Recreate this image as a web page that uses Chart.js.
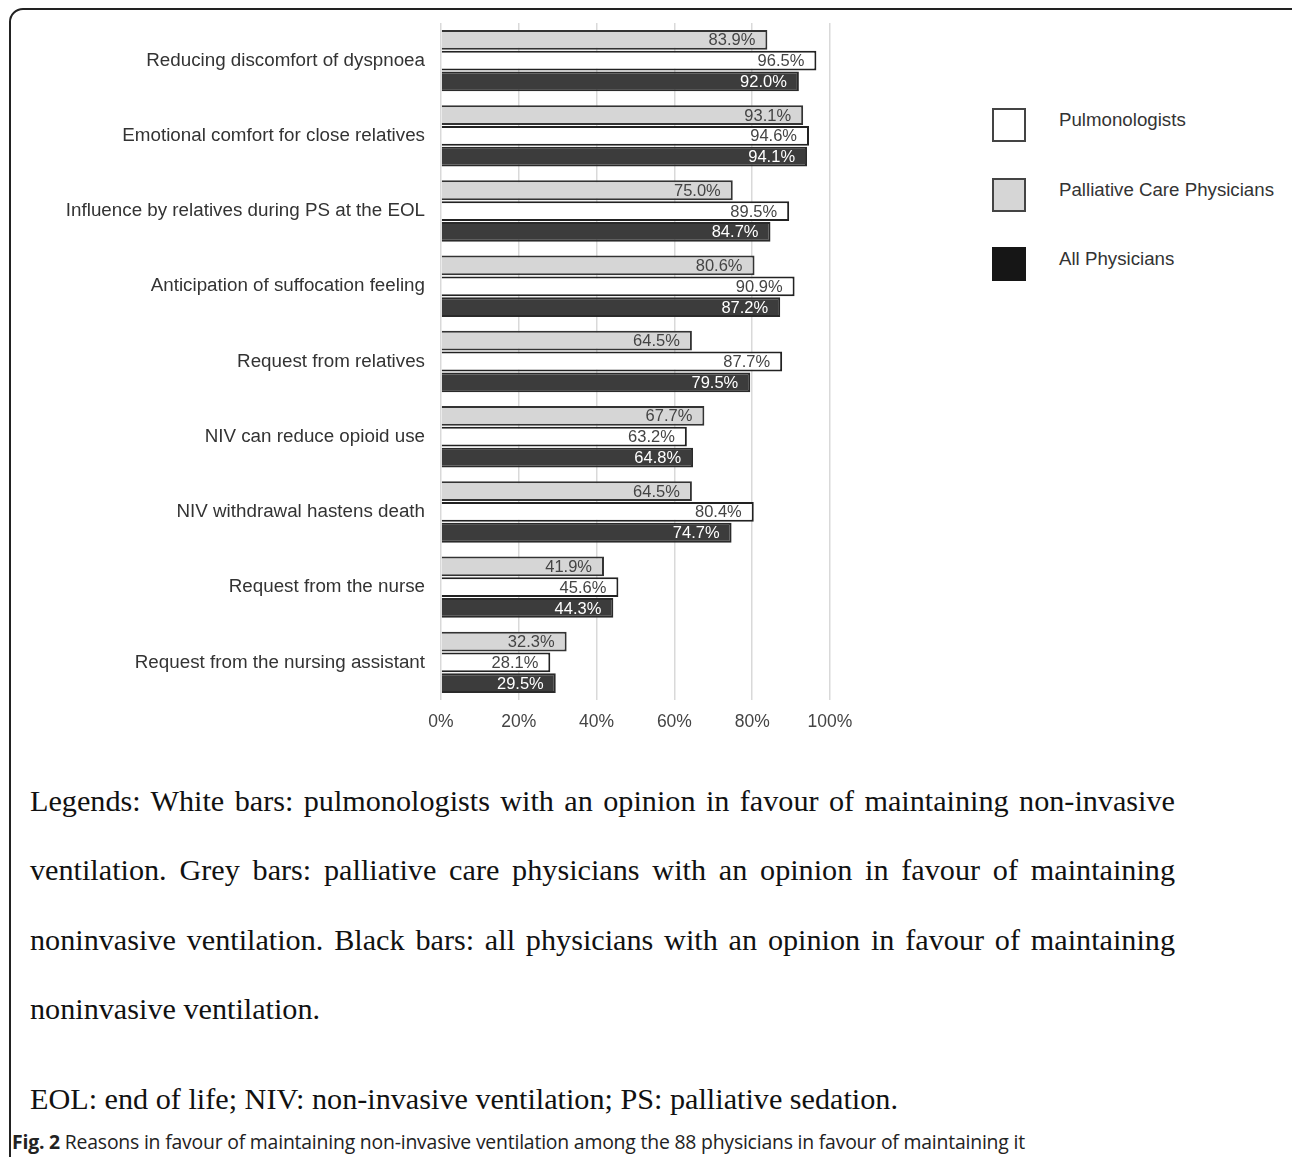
<!DOCTYPE html>
<html>
<head>
<meta charset="utf-8">
<script src="https://cdn.jsdelivr.net/npm/chart.js@4"></script>
<style>
  html, body { margin:0; padding:0; background:#fff; width:1292px; height:1157px; overflow:hidden; }
  #frame { position:absolute; left:9px; top:8px; width:1300px; height:1200px; border:2px solid #222; border-radius:14px; box-sizing:border-box; }
  #wrap { position:absolute; left:0; top:0; width:870px; height:745px; }
  .leg { position:absolute; left:992px; width:34px; height:34px; box-sizing:border-box; border:2px solid #444; }
  .legt { position:absolute; left:1059px; font-family:"Liberation Sans", Arial, sans-serif; font-size:18.7px; color:#333; line-height:20px; }
  .cap { position:absolute; left:30px; width:1145px; font-family:"Liberation Serif", "Times New Roman", serif; font-size:30.2px; color:#111; white-space:nowrap; }
  .just { text-align:justify; text-align-last:justify; white-space:normal; }
  #fig { position:absolute; left:12px; top:1128px; font-family:"Open Sans", sans-serif; font-size:19.4px; letter-spacing:-0.2px; color:#222; white-space:nowrap; }
</style>
</head>
<body>
<div id="frame"></div>
<div id="wrap"><canvas id="c"></canvas></div>

<div class="leg" style="top:108px;background:#fff;"></div>
<div class="legt" style="top:110px;">Pulmonologists</div>
<div class="leg" style="top:178px;background:#d6d6d6;"></div>
<div class="legt" style="top:180px;">Palliative Care Physicians</div>
<div class="leg" style="top:247px;background:#161616;border-color:#161616;"></div>
<div class="legt" style="top:249px;">All Physicians</div>

<div class="cap just" style="top:784px;">Legends: White bars: pulmonologists with an opinion in favour of maintaining non-invasive</div>
<div class="cap just" style="top:853px;">ventilation. Grey bars: palliative care physicians with an opinion in favour of maintaining</div>
<div class="cap just" style="top:923px;">noninvasive ventilation. Black bars: all physicians with an opinion in favour of maintaining</div>
<div class="cap" style="top:992px;">noninvasive ventilation.</div>
<div class="cap" style="top:1082px;">EOL: end of life; NIV: non-invasive ventilation; PS: palliative sedation.</div>
<div id="fig"><b>Fig. 2</b> Reasons in favour of maintaining non-invasive ventilation among the 88 physicians in favour of maintaining it</div>

<script>
const categories = [
  "Reducing discomfort of dyspnoea",
  "Emotional comfort for close relatives",
  "Influence by relatives during PS at the EOL",
  "Anticipation of suffocation feeling",
  "Request from relatives",
  "NIV can reduce opioid use",
  "NIV withdrawal hastens death",
  "Request from the nurse",
  "Request from the nursing assistant"
];
const palliative = [83.9, 93.1, 75.0, 80.6, 64.5, 67.7, 64.5, 41.9, 32.3];
const pulmonologists = [96.5, 94.6, 89.5, 90.9, 87.7, 63.2, 80.4, 45.6, 28.1];
const allPhysicians = [92.0, 94.1, 84.7, 87.2, 79.5, 64.8, 74.7, 44.3, 29.5];
const xTicks = [0, 20, 40, 60, 80, 100];

const labelPlugin = {
  id: 'valLabels',
  afterDatasetsDraw(chart) {
    const ctx = chart.ctx;
    ctx.save();
    ctx.font = '16.5px "Liberation Sans", Arial, sans-serif';
    ctx.textAlign = 'right';
    ctx.textBaseline = 'middle';
    chart.data.datasets.forEach((ds, i) => {
      const meta = chart.getDatasetMeta(i);
      meta.data.forEach((bar, j) => {
        ctx.fillStyle = ds.labelColor;
        ctx.fillText(ds.data[j].toFixed(1) + '%', bar.x - 12, bar.y + 1);
      });
    });
    ctx.restore();
  }
};

new Chart(document.getElementById('c'), {
  type: 'bar',
  data: {
    labels: categories,
    datasets: [
      { label: 'Palliative Care Physicians', data: palliative, backgroundColor: '#d6d6d6', borderColor: '#333', borderWidth: 2, labelColor: '#444' },
      { label: 'Pulmonologists', data: pulmonologists, backgroundColor: '#ffffff', borderColor: '#222', borderWidth: 2, labelColor: '#444' },
      { label: 'All Physicians', data: allPhysicians, backgroundColor: '#3c3c3c', borderColor: '#2a2a2a', borderWidth: 2, labelColor: '#ffffff' }
    ]
  },
  options: {
    indexAxis: 'y',
    responsive: true,
    maintainAspectRatio: false,
    animation: false,
    layout: { padding: { top: 23, right: 40, bottom: 0, left: 0 } },
    categoryPercentage: 0.83,
    barPercentage: 0.95,
    plugins: { legend: { display: false }, tooltip: { enabled: false } },
    scales: {
      x: {
        min: 0, max: 100,
        afterBuildTicks(scale) { scale.ticks = xTicks.map(v => ({ value: v })); },
        afterFit(scale) { scale.height = 45; scale.paddingLeft = 0; scale.paddingRight = 0; },
        grid: { color: '#d9d9d9', lineWidth: 1.5, drawTicks: false },
        border: { display: false },
        ticks: {
          padding: 12,
          color: '#444',
          font: { family: '"Liberation Sans", Arial, sans-serif', size: 17.5 },
          callback: v => v + '%'
        }
      },
      y: {
        afterFit(scale) { scale.width = 441; scale.paddingTop = 0; scale.paddingBottom = 0; },
        grid: { display: false, drawTicks: false },
        border: { display: false },
        ticks: {
          padding: 16,
          color: '#333',
          font: { family: '"Liberation Sans", Arial, sans-serif', size: 18.8 }
        }
      }
    }
  },
  plugins: [labelPlugin]
});
</script>
</body>
</html>
